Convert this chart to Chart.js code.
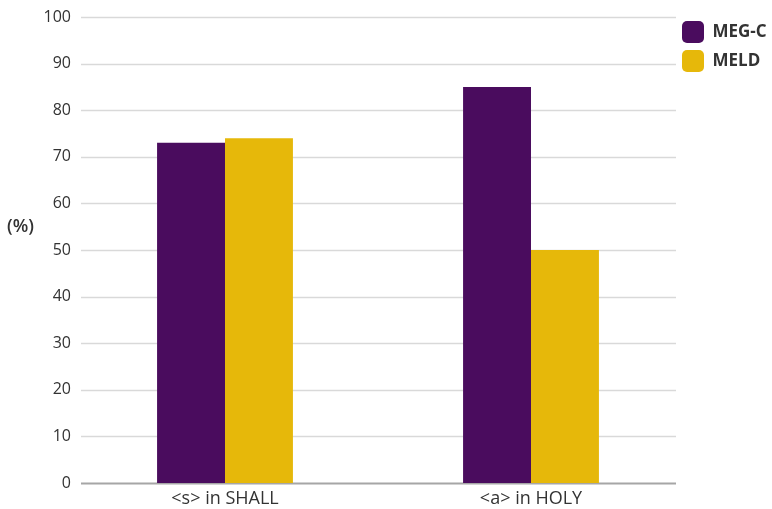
<!DOCTYPE html>
<html>
<head>
<meta charset="utf-8">
<script src="https://cdn.jsdelivr.net/npm/chart.js@4/dist/chart.umd.min.js"></script>
<style>
  html, body { margin: 0; padding: 0; background: #ffffff; }
  #wrap { width: 772px; height: 509px; position: relative; }
</style>
</head>
<body>
<div id="wrap"><canvas id="chart"></canvas></div>
<script>
// Categories and series
const categories = ['<s> in SHALL', '<a> in HOLY'];
const megcValues = [73, 85];
const meldValues = [74, 50];
const seriesNames = ['MEG-C', 'MELD'];
const yTicks = [0, 10, 20, 30, 40, 50, 60, 70, 80, 90, 100];

const PURPLE = '#4a0c5e';
const YELLOW = '#e6b80a';
const TEXT = '#333333';
const FONT = "'Open Sans', 'Noto Sans', sans-serif";

// Horizontal value lines and base line, drawn behind the bars
const gridPlugin = {
  id: 'valueGrid',
  beforeDatasetsDraw(chart) {
    const y = chart.scales.y;
    const ctx = chart.ctx;
    const x0 = 81, x1 = 676;
    ctx.save();
    yTicks.forEach(v => {
      const py = Math.round(y.getPixelForValue(v)) + 0.5;
      ctx.beginPath();
      if (v === 0) {
        ctx.strokeStyle = '#a6a6a6';
        ctx.lineWidth = 2;
      } else {
        ctx.strokeStyle = '#d9d9d9';
        ctx.lineWidth = 1.5;
      }
      ctx.moveTo(x0, py);
      ctx.lineTo(x1, py);
      ctx.stroke();
    });
    ctx.restore();
  },
  afterDraw(chart) {
    const ctx = chart.ctx;
    const y = chart.scales.y;
    ctx.save();
    ctx.fillStyle = TEXT;
    ctx.font = "600 18px " + FONT;
    ctx.textAlign = 'left';
    ctx.textBaseline = 'middle';
    ctx.fillText('(%)', 7, y.getPixelForValue(55));
    ctx.restore();
  }
};

// Legend sits in the top-right corner, next to the plot
const legendPlacer = {
  id: 'legendPlacer',
  afterLayout(chart) {
    const lg = chart.legend;
    if (!lg) return;
    const h = lg.height;
    lg.left = 675;
    lg.right = chart.width;
    lg.width = chart.width - 675;
    lg.top = 14;
    lg.bottom = 14 + h;
  }
};

new Chart(document.getElementById('chart'), {
  type: 'bar',
  data: {
    labels: categories,
    datasets: [
      { label: seriesNames[0], data: megcValues, backgroundColor: PURPLE, borderWidth: 0 },
      { label: seriesNames[1], data: meldValues, backgroundColor: YELLOW, borderWidth: 0 }
    ]
  },
  options: {
    responsive: true,
    maintainAspectRatio: false,
    animation: false,
    layout: { padding: { top: 17, left: 0, right: 0, bottom: 0 } },
    datasets: {
      bar: { categoryPercentage: 0.444, barPercentage: 1.0 }
    },
    plugins: {
      tooltip: { enabled: false },
      legend: {
        position: 'right',
        align: 'start',
        maxWidth: 88,
        labels: {
          boxWidth: 22,
          boxHeight: 22,
          useBorderRadius: true,
          borderRadius: 5,
          padding: 7,
          color: TEXT,
          font: { family: FONT, size: 17, weight: 'bold' }
        }
      }
    },
    scales: {
      x: {
        grid: { display: false, drawTicks: false },
        border: { display: false },
        ticks: {
          color: TEXT,
          padding: 5,
          font: { family: FONT, size: 18 }
        },
        afterFit(scale) { scale.height = 26; }
      },
      y: {
        min: 0,
        max: 100,
        grid: { display: false, drawTicks: false },
        border: { display: false },
        ticks: {
          stepSize: 10,
          color: TEXT,
          padding: 1,
          font: { family: FONT, size: 16 }
        },
        afterFit(scale) { scale.width = 72; }
      }
    }
  },
  plugins: [gridPlugin, legendPlacer]
});
</script>
</body>
</html>
